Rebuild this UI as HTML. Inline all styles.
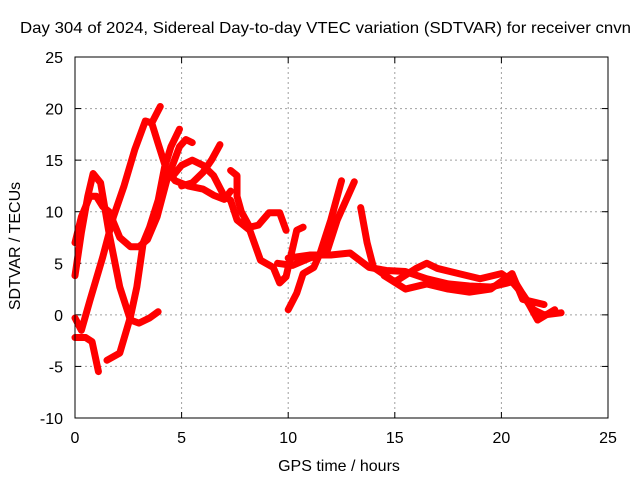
<!DOCTYPE html>
<html><head><meta charset="utf-8"><style>
body{margin:0;background:#fff;}
svg text{font-family:"Liberation Sans",sans-serif;font-size:16px;fill:#000;}
</style></head><body>
<svg id="chart" width="640" height="480" viewBox="0 0 640 480" xmlns="http://www.w3.org/2000/svg">
<rect width="640" height="480" fill="#fff"/>
<text x="20" y="33" textLength="611" lengthAdjust="spacingAndGlyphs">Day 304 of 2024, Sidereal Day-to-day VTEC variation (SDTVAR) for receiver cnvn</text>
<g id="grid"></g>
<g id="axes"></g>
<g id="series"></g>
<rect x="75" y="57" width="533" height="361" fill="none" stroke="#000" stroke-width="1"/>
<text x="339" y="471" text-anchor="middle">GPS time / hours</text>
<text transform="translate(20,246) rotate(-90)" text-anchor="middle">SDTVAR / TECUs</text>
</svg>
<script>
const xTicks=[0,5,10,15,20,25];
const yTicks=[-10,-5,0,5,10,15,20,25];
const track1=[[0,3.8],[0.3,8],[0.6,11.5],[0.85,13.7],[1.2,12.8],[1.6,7.9],[2.1,2.7],[2.6,-0.5],[3,-0.8],[3.5,-0.3],[3.9,0.3]];
const track2=[[0,7],[0.3,9.5],[0.7,11.5],[1.0,11.5],[1.3,10.5],[1.6,10],[2.1,7.5],[2.6,6.6],[3.0,6.6],[3.4,7.3],[3.85,9.5],[4.3,13],[4.9,16.3],[5.2,17],[5.5,16.7]];
const track3=[[0,-0.3],[0.3,-1.5],[0.7,1.4],[1.3,5.6],[1.8,9.5],[2.3,12.5],[2.8,16],[3.3,18.8],[3.6,18.6],[4.0,20.2]];
const track4=[[0,-2.2],[0.5,-2.2],[0.8,-2.6],[1.1,-5.5]];
const track5=[[1.5,-4.4],[2.1,-3.7],[2.6,-0.2],[2.9,2.7],[3.2,7],[3.5,8.5],[3.9,11.1],[4.2,14.3],[4.5,16.3],[4.9,18]];
const track6=[[3.6,18.6],[3.9,16.6],[4.3,14],[4.7,13],[5.3,12.5],[6.0,12.2],[6.5,11.6],[7.0,11.2],[7.3,12]];
const track7=[[4.6,13.5],[5.0,14.5],[5.5,15],[6.0,14.5],[6.5,13.5],[7.0,11.5],[7.3,11.1],[7.6,9.2],[8.2,8.2],[8.7,5.3],[9.3,4.6],[9.6,3.1],[9.9,3.7],[10.4,8.2],[10.7,8.5]];
const track8=[[5.0,12.5],[5.5,12.8],[6.0,13.8],[6.4,15],[6.8,16.5]];
const track9=[[7.3,14],[7.6,13.5],[7.6,11.5],[7.8,10],[8.2,8.5],[8.6,8.7],[9.1,9.9],[9.6,9.9],[9.9,8.2]];
const track10=[[10,0.5],[10.4,2.1],[10.7,4],[11.2,4.6],[11.5,6],[12,9.2],[12.5,13]];
const track11=[[9.5,5],[10.2,4.8],[11,5.5],[11.8,6],[12.3,9.2],[13.1,12.9]];
const track12=[[10,5.5],[11,5.8],[12,5.8],[12.9,6],[13.8,4.6],[14.6,4.3],[15.5,4.2],[16.5,3.5],[17.5,3],[18.5,2.8],[19.5,2.7],[20.5,3.2],[21,2],[21.5,0.5],[22,0],[22.8,0.2]];
const track13=[[13.4,10.4],[13.7,7],[14,4.6],[15,3.2],[16,4.5],[16.5,5],[17,4.5],[18,4],[19,3.5],[20,4],[20.7,3],[21.3,1],[21.7,-0.5],[22.5,0.5]];
const track14=[[14.5,3.8],[15.5,2.5],[16.5,3],[17.5,2.5],[18.5,2.2],[19.5,2.5],[20.5,4],[21,1.5],[22,1]];
const tracks=[track1,track2,track3,track4,track5,track6,track7,track8,track9,track10,track11,track12,track13,track14];
const X=v=>75+v*533/25;
const Y=v=>57+(25-v)*361/35;
const NS='http://www.w3.org/2000/svg';
const grid=document.getElementById('grid'),axes=document.getElementById('axes'),ser=document.getElementById('series');
function mk(t,a,p){const e=document.createElementNS(NS,t);for(const k in a)e.setAttribute(k,a[k]);p.appendChild(e);return e;}
xTicks.forEach(t=>{
 if(t>0&&t<25){const g=mk('line',{x1:X(t),x2:X(t),y1:57,y2:418,stroke:'#a0a0a0','stroke-dasharray':'2,3'},grid);
 
 }
 const l=mk('text',{x:X(t),y:443,'text-anchor':'middle'},axes);l.textContent=t;
 
 
 mk('line',{x1:X(t),x2:X(t),y1:418,y2:412,stroke:'#000'},axes);
 mk('line',{x1:X(t),x2:X(t),y1:57,y2:63,stroke:'#000'},axes);
});
yTicks.forEach(t=>{
 if(t>-10&&t<25){const g=mk('line',{x1:75,x2:608,y1:Y(t),y2:Y(t),stroke:'#a0a0a0','stroke-dasharray':'2,3'},grid);
 
 }
 const l=mk('text',{x:63,y:Y(t)+6,'text-anchor':'end'},axes);l.textContent=t;
 
 
 mk('line',{x1:75,x2:81,y1:Y(t),y2:Y(t),stroke:'#000'},axes);
 mk('line',{x1:602,x2:608,y1:Y(t),y2:Y(t),stroke:'#000'},axes);
});
tracks.forEach((tr,i)=>{
 const p=mk('polyline',{points:tr.map(d=>X(d[0])+','+Y(d[1])).join(' '),fill:'none',stroke:'#ff0000','stroke-width':7,'stroke-linejoin':'round','stroke-linecap':'round'},ser);
 
 
});
</script>
</body></html>
